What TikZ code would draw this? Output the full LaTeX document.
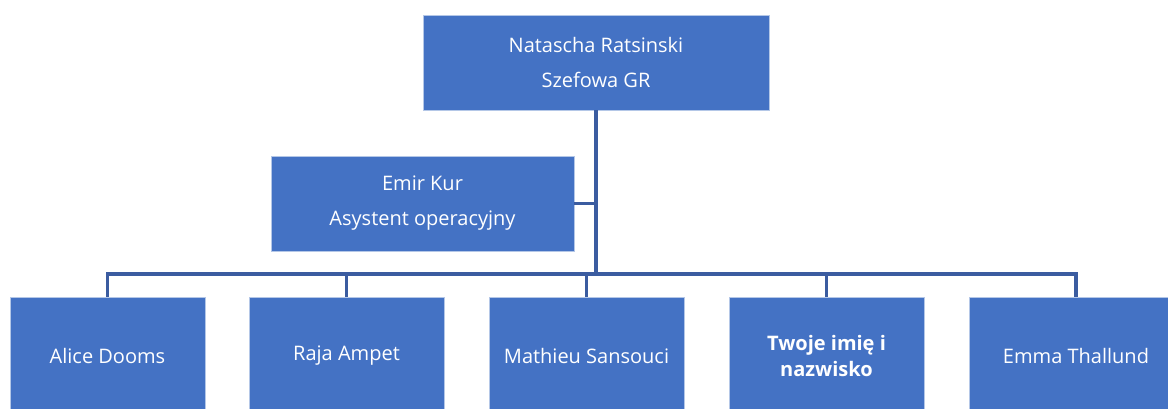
\documentclass[tikz,border=0pt]{standalone}
\usepackage{fontspec}
\setmainfont{Open Sans}
\usetikzlibrary{positioning}
\definecolor{boxblue}{HTML}{4472C4}
\definecolor{lineblue}{HTML}{3B5CA0}
\definecolor{edgeblue}{HTML}{B4C7E7}

\begin{document}
\begin{tikzpicture}[x=1pt,y=-1pt,
every node/.style={fill=boxblue, draw=edgeblue, line width=0.8pt, rectangle, align=center,
  text=white, inner sep=0pt, font=\fontsize{20}{35}\selectfont},
headbox/.style={minimum width=346pt, minimum height=95pt},
asstbox/.style={minimum width=303pt, minimum height=95pt},
staffbox/.style={minimum width=195pt, minimum height=118pt},
conn/.style={draw=lineblue, line width=3.2pt}]

\useasboundingbox (0,0) rectangle (1168,408);

% head and assistant
\node[headbox] (head) at (596,62.5) {Natascha Ratsinski\\Szefowa GR};
\node[asstbox] (asst) at (422.5,203.5) {Emir Kur\\Asystent operacyjny};

% staff row
\node[staffbox] (alice) at (107.5,356) {Alice Dooms};
\node[staffbox] (raja) at (346.5,356) {Raja Ampet};
\node[staffbox] (mathieu) at (586.5,356) {Mathieu Sansouci};
\node[staffbox, font=\fontsize{20}{26}\selectfont\bfseries] (you) at (826.5,356) {Twoje imię i\\nazwisko};
\node[staffbox, minimum width=214pt] (emma) at (1076,356) {Emma Thallund};

\coordinate (hub) at (597,274);

\draw[conn] (head.south) -- (head.south |- hub);
\draw[conn] (asst.east) -- (asst.east -| head.south);
\draw[conn] (alice.north) |- (emma.north |- hub) -- (emma.north);
\draw[conn] (raja.north) -- (raja.north |- hub);
\draw[conn] (mathieu.north) -- (mathieu.north |- hub);
\draw[conn] (you.north) -- (you.north |- hub);

\end{tikzpicture}
\end{document}
